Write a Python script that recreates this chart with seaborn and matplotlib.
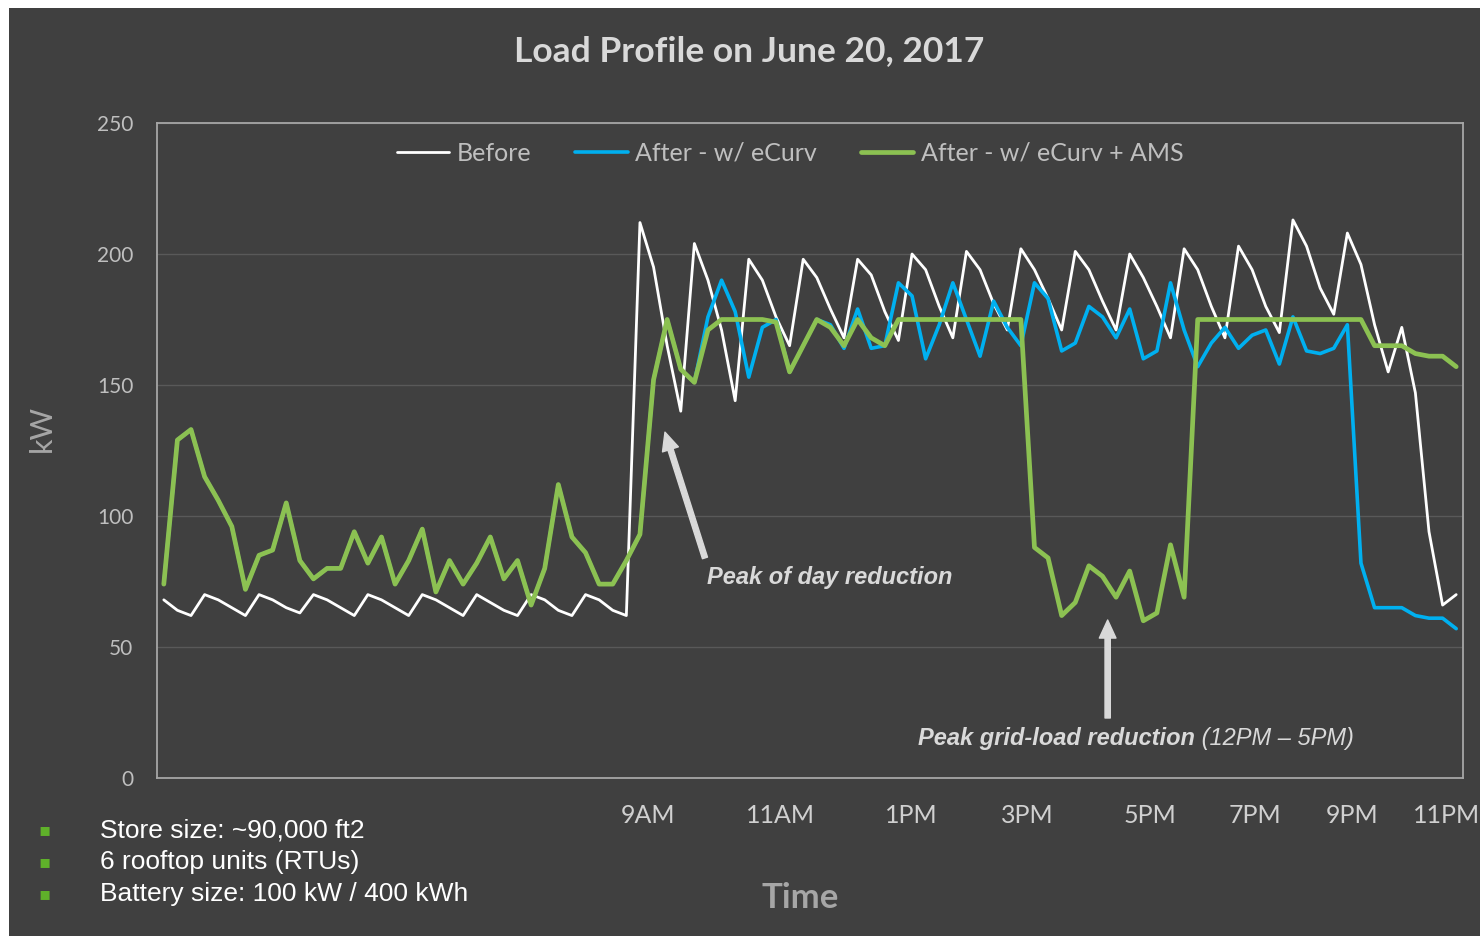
import numpy as np
import pandas as pd
import matplotlib
matplotlib.use('Agg')
import matplotlib.pyplot as plt
import seaborn as sns
from matplotlib.patches import Rectangle

# 15-minute load readings (kW) for June 20, 2017
before = [68, 64, 62, 70, 68, 65, 62, 70,
          68, 65, 63, 70, 68, 65, 62, 70,
          68, 65, 62, 70, 68, 65, 62, 70,
          67, 64, 62, 70, 68, 64, 62, 70,
          68, 64, 62, 212, 195, 165, 140, 204,
          190, 171, 144, 198, 190, 176, 165, 198,
          191, 179, 168, 198, 192, 178, 167, 200,
          194, 180, 168, 201, 194, 181, 171, 202,
          194, 183, 171, 201, 194, 182, 171, 200,
          191, 180, 168, 202, 194, 180, 168, 203,
          194, 180, 170, 213, 203, 187, 177, 208,
          196, 173, 155, 172, 147, 94, 66, 70]

after_ecurv = [74, 129, 133, 115, 106, 96, 72, 85,
               87, 105, 83, 76, 80, 80, 94, 82,
               92, 74, 83, 95, 71, 83, 74, 82,
               92, 76, 83, 66, 80, 112, 92, 86,
               74, 74, 83, 93, 152, 175, 156, 151,
               176, 190, 178, 153, 172, 175, 155, 165,
               175, 173, 164, 179, 164, 165, 189, 184,
               160, 173, 189, 175, 161, 182, 172, 165,
               189, 183, 163, 166, 180, 176, 168, 179,
               160, 163, 189, 171, 157, 166, 172, 164,
               169, 171, 158, 176, 163, 162, 164, 173,
               82, 65, 65, 65, 62, 61, 61, 57]

after_ams = [74, 129, 133, 115, 106, 96, 72, 85,
             87, 105, 83, 76, 80, 80, 94, 82,
             92, 74, 83, 95, 71, 83, 74, 82,
             92, 76, 83, 66, 80, 112, 92, 86,
             74, 74, 83, 93, 152, 175, 156, 151,
             171, 175, 175, 175, 175, 174, 155, 165,
             175, 172, 165, 175, 168, 165, 175, 175,
             175, 175, 175, 175, 175, 175, 175, 175,
             88, 84, 62, 67, 81, 77, 69, 79,
             60, 63, 89, 69, 175, 175, 175, 175,
             175, 175, 175, 175, 175, 175, 175, 175,
             175, 165, 165, 165, 162, 161, 161, 157]

series_names = ['Before', 'After - w/ eCurv', 'After - w/ eCurv + AMS']
series_colors = ['#ffffff', '#00b0f0', '#8cc152']
series_widths = [2.0, 2.6, 3.4]

# tick labels sit where the original chart put them
tick_hours = [9.02, 11.45, 13.86, 15.99, 18.25, 20.18, 21.96, 23.7]
tick_labels = ['9AM', '11AM', '1PM', '3PM', '5PM', '7PM', '9PM', '11PM']

bullet_items = ['Store size: ~90,000 ft2', '6 rooftop units (RTUs)',
                'Battery size: 100 kW / 400 kWh']

# long-form table: one row per reading, centred in its 15-min slot
hours = np.arange(96) / 4 + 0.125
df = pd.DataFrame({
    'hour': np.tile(hours, 3),
    'kW': before + after_ecurv + after_ams,
    'series': np.repeat(series_names, 96),
})

sns.set_style('dark')
plt.rcParams['font.family'] = ['Lato', 'DejaVu Sans']

panel = '#404040'
fig = plt.figure(figsize=(14.8, 9.38), dpi=100)
fig.patch.set_facecolor('white')
fig.patches.append(Rectangle((9 / 1480, 2 / 938), 1 - 9 / 1480, 1 - 10 / 938,
                             transform=fig.transFigure, facecolor=panel,
                             edgecolor='none', zorder=-5))

ax = fig.add_axes([157 / 1480, 160 / 938, 1306 / 1480, 655 / 938])
ax.set_facecolor(panel)

sns.lineplot(data=df, x='hour', y='kW', hue='series', hue_order=series_names,
             palette=dict(zip(series_names, series_colors)),
             size='series', sizes=dict(zip(series_names, series_widths)),
             ax=ax, legend=True)

ax.set_xlim(0, 24)
ax.set_ylim(0, 250)
ax.set_yticks(range(0, 251, 50))
ax.set_xticks(tick_hours)
ax.set_xticklabels(tick_labels)
ax.tick_params(axis='x', length=0, pad=19, labelsize=18, labelcolor='#d0d0d0')
ax.tick_params(axis='y', length=0, pad=17, labelsize=15, labelcolor='#bfbfbf')
ax.set_xlabel('')
ax.set_ylabel('')
ax.grid(axis='y', color='#595959', lw=1)
ax.grid(axis='x', visible=False)
for s in ax.spines.values():
    s.set_visible(True)
    s.set_color('#a6a6a6')
    s.set_linewidth(1.3)

handles, labels = ax.get_legend_handles_labels()
leg = ax.legend(handles, labels, loc='center', bbox_to_anchor=(0.4847, 0.954),
                ncol=3, frameon=False, fontsize=18, handlelength=2.1,
                handletextpad=0.3, columnspacing=1.75, labelcolor='#bfbfbf')

fig.text(0.5061, 1 - 51 / 938, 'Load Profile on June 20, 2017', ha='center',
         va='center', fontsize=25.5, weight='bold', color='#d9d9d9')
fig.text(42 / 1480, 1 - 428 / 938, 'kW', rotation=90, ha='center', va='center',
         fontsize=22, color='#a6a6a6')
fig.text(800 / 1480, 1 - 898 / 938, 'Time', ha='center', va='center',
         fontsize=25, weight='bold', color='#a6a6a6')

# annotations
note = '#d9d9d9'
arrow = dict(width=3.8, headwidth=12, headlength=13, color=note, shrink=0)
ax.annotate('', xy=(9.335, 132), xytext=(10.07, 84), arrowprops=arrow)
ax.text(10.11, 76.7, 'Peak of day reduction', ha='left', va='center',
        fontsize=17, weight='bold', style='italic', color=note,
        family='Liberation Sans')
ax.annotate('', xy=(17.47, 60.3), xytext=(17.47, 22.9), arrowprops=arrow)
t1 = ax.text(13.98, 14.9, 'Peak grid-load reduction', ha='left', va='center',
             fontsize=17, weight='bold', style='italic', color=note,
             family='Liberation Sans')
ax.annotate(' (12PM \u2013 5PM)', xy=(1, 0.5), xycoords=t1, ha='left',
            va='center', fontsize=17, style='italic', color=note,
            family='Liberation Sans')

# bullet list under the chart
for k, item in enumerate(bullet_items):
    y = 1 - (830 + 32 * k) / 938
    fig.text(45 / 1480, y, '\u25aa', ha='center', va='center', fontsize=13,
             color='#5fb12a', family='DejaVu Sans')
    fig.text(100 / 1480, y, item, ha='left', va='center', fontsize=19,
             color='white', family='Liberation Sans')

fig.savefig('out.png', dpi=100, facecolor=fig.get_facecolor())
